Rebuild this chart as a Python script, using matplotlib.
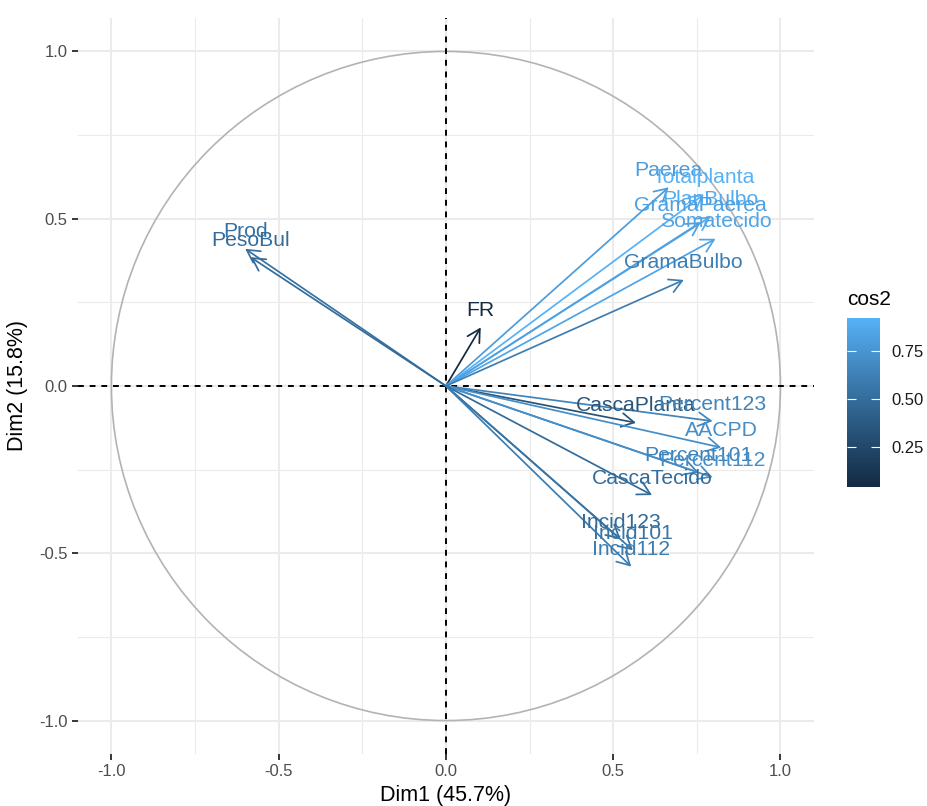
import numpy as np
import matplotlib
matplotlib.use("Agg")
import matplotlib.pyplot as plt
from matplotlib.colors import ListedColormap, Normalize
from matplotlib.patches import Circle

plt.rcParams['font.family'] = ['Liberation Sans', 'DejaVu Sans']

# variable coordinates on Dim1 / Dim2 and their cos2
variables = ['FR', 'Paerea', 'Totalplanta', 'PlanBulbo', 'GramaPaerea',
             'Somatecido', 'GramaBulbo', 'Prod', 'PesoBul', 'CascaPlanta',
             'Percent123', 'AACPD', 'Percent101', 'Percent112',
             'CascaTecido', 'Incid123', 'Incid101', 'Incid112']
dim1 = [0.104, 0.666, 0.771, 0.791, 0.762, 0.806, 0.711, -0.600, -0.584,
        0.568, 0.797, 0.823, 0.756, 0.797, 0.616, 0.522, 0.559, 0.554]
dim2 = [0.175, 0.594, 0.573, 0.506, 0.490, 0.440, 0.317, 0.410, 0.385,
        -0.110, -0.105, -0.184, -0.259, -0.273, -0.326, -0.458, -0.491, -0.540]
cos2 = [0.041, 0.796, 0.922, 0.882, 0.821, 0.843, 0.606, 0.528, 0.489,
        0.335, 0.646, 0.711, 0.639, 0.710, 0.486, 0.482, 0.553, 0.599]

axis_ticks = [-1.0, -0.5, 0.0, 0.5, 1.0]
axis_ticklabels = ['-1.0', '-0.5', '0.0', '0.5', '1.0']
minor_ticks = [-0.75, -0.25, 0.25, 0.75]
legend_ticks = [0.25, 0.50, 0.75]
legend_ticklabels = ['0.25', '0.50', '0.75']
xlabel = 'Dim1 (45.7%)'
ylabel = 'Dim2 (15.8%)'


# ggplot2 default continuous gradient, interpolated in CIELAB
WHITE = np.array([0.95047, 1.0, 1.08883])
M = np.array([[0.4124, 0.3576, 0.1805],
              [0.2126, 0.7152, 0.0722],
              [0.0193, 0.1192, 0.9505]])


def hex_to_lab(h):
    rgb = np.array([int(h[i:i + 2], 16) for i in (1, 3, 5)]) / 255
    lin = np.where(rgb <= 0.04045, rgb / 12.92, ((rgb + 0.055) / 1.055) ** 2.4)
    t = (M @ lin) / WHITE
    f = np.where(t > 0.008856, np.cbrt(t), 7.787 * t + 16 / 116)
    return np.array([116 * f[1] - 16, 500 * (f[0] - f[1]), 200 * (f[1] - f[2])])


def lab_to_rgb(lab):
    fy = (lab[0] + 16) / 116
    fx = fy + lab[1] / 500
    fz = fy - lab[2] / 200
    f = np.array([fx, fy, fz])
    t = np.where(f ** 3 > 0.008856, f ** 3, (f - 16 / 116) / 7.787) * WHITE
    lin = np.linalg.solve(M, t)
    lin = np.clip(lin, 0, 1)
    rgb = np.where(lin <= 0.0031308, 12.92 * lin, 1.055 * lin ** (1 / 2.4) - 0.055)
    return np.clip(rgb, 0, 1)


lo, hi = hex_to_lab('#132B43'), hex_to_lab('#56B1F7')
cmap = ListedColormap([lab_to_rgb(lo + (hi - lo) * s) for s in np.linspace(0, 1, 256)])
norm = Normalize(vmin=min(cos2), vmax=max(cos2))

fig = plt.figure(figsize=(9.27, 8.06), dpi=100)
ax = fig.add_axes([0.0841, 0.0645, 0.7939, 0.9132])

# grid
for v in axis_ticks:
    ax.axvline(v, color='#EBEBEB', lw=1.5, zorder=0)
    ax.axhline(v, color='#EBEBEB', lw=1.5, zorder=0)
for v in minor_ticks:
    ax.axvline(v, color='#EBEBEB', lw=0.8, zorder=0)
    ax.axhline(v, color='#EBEBEB', lw=0.8, zorder=0)

ax.add_patch(Circle((0, 0), 1.0, fill=False, edgecolor='#B3B3B3', lw=1.2, zorder=1))
ax.axhline(0, color='black', lw=1.4, ls=(0, (3, 3)), zorder=2)
ax.axvline(0, color='black', lw=1.4, ls=(0, (3, 3)), zorder=2)

for name, x, y, c in zip(variables, dim1, dim2, cos2):
    col = cmap(norm(c))
    ax.annotate('', xy=(x, y), xytext=(0, 0),
                arrowprops=dict(arrowstyle='->,head_length=0.6,head_width=0.33',
                                color=col, lw=1.25, shrinkA=0, shrinkB=0,
                                mutation_scale=15),
                zorder=3)
    ax.annotate(name, xy=(x, y), xytext=(0, 8.3), textcoords='offset points',
                ha='center', va='baseline', fontsize=15.2, color=col, zorder=4)

ax.set_xlim(-1.1, 1.1)
ax.set_ylim(-1.1, 1.1)
ax.set_xticks(axis_ticks)
ax.set_xticklabels(axis_ticklabels)
ax.set_yticks(axis_ticks)
ax.set_yticklabels(axis_ticklabels)
ax.tick_params(length=4, width=1.1, color='black', labelsize=12,
               labelcolor='#4D4D4D', pad=3.5)
for s in ax.spines.values():
    s.set_visible(False)
ax.set_xlabel(xlabel, fontsize=15.5, labelpad=4)
ax.set_ylabel(ylabel, fontsize=15.5, labelpad=8)

# legend colourbar
cax = fig.add_axes([0.9137, 0.3958, 0.0356, 0.2097])
sm = plt.cm.ScalarMappable(cmap=cmap, norm=norm)
cb = fig.colorbar(sm, cax=cax)
cb.outline.set_visible(False)
cb.set_ticks(legend_ticks)
cb.set_ticklabels(legend_ticklabels)
cax.tick_params(direction='in', length=6.5, width=0.8, color='white',
                left=True, right=True, labelsize=12, labelcolor='#1A1A1A', pad=8)
cax.set_title('cos2', loc='left', fontsize=15, pad=9)

fig.savefig('out.png', dpi=100)
